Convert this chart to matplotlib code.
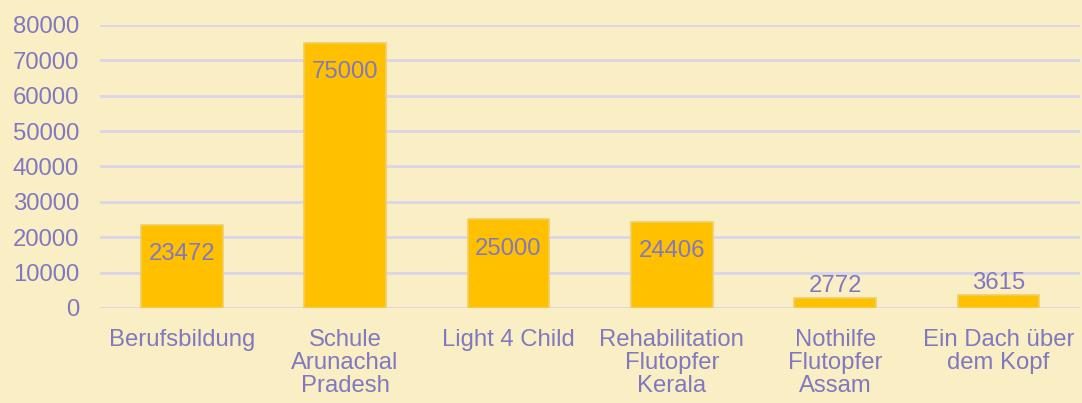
import matplotlib.pyplot as plt

# data
projects = ['Berufsbildung', 'Schule\nArunachal\nPradesh', 'Light 4 Child',
            'Rehabilitation\nFlutopfer\nKerala', 'Nothilfe\nFlutopfer\nAssam',
            'Ein Dach über\ndem Kopf']
amounts = [23472, 75000, 25000, 24406, 2772, 3615]
yticks = [0, 10000, 20000, 30000, 40000, 50000, 60000, 70000, 80000]

bg = '#FAEFC4'
bar_col = '#FFC000'
txt = '#8078C0'
grid_col = '#DAD5EA'
fs = 17.2

plt.rcParams['font.family'] = ['Liberation Sans', 'DejaVu Sans']

fig = plt.figure(figsize=(10.82, 4.03), dpi=100, facecolor=bg)
ax = fig.add_axes([0.0924, 0.236, 0.906, 0.702])
ax.set_facecolor(bg)

x = range(len(projects))
bars = ax.bar(x, amounts, width=0.5, color=bar_col, edgecolor='#F2CE63',
              linewidth=1.2, zorder=3)

for b, v in zip(bars, amounts):
    cx = b.get_x() + b.get_width() / 2
    if v > 10000:
        ax.annotate(str(v), (cx, v), xytext=(0, -21), textcoords='offset points',
                    ha='center', va='center', color=txt, fontsize=fs, zorder=4)
    else:
        ax.annotate(str(v), (cx, v), xytext=(0, 9), textcoords='offset points',
                    ha='center', va='center', color=txt, fontsize=fs, zorder=4)

ax.set_xlim(-0.5, len(projects) - 0.5)
ax.set_ylim(0, 80000)
ax.set_yticks(yticks)
ax.set_xticks(list(x))
ax.set_xticklabels(projects, linespacing=1.08)
ax.tick_params(axis='both', length=0, labelsize=fs, labelcolor=txt)
ax.tick_params(axis='y', pad=15)
ax.tick_params(axis='x', pad=15)
ax.grid(axis='y', color=grid_col, linewidth=2, zorder=0)
for s in ax.spines.values():
    s.set_visible(False)

fig.savefig('out.png', dpi=100, facecolor=bg)
